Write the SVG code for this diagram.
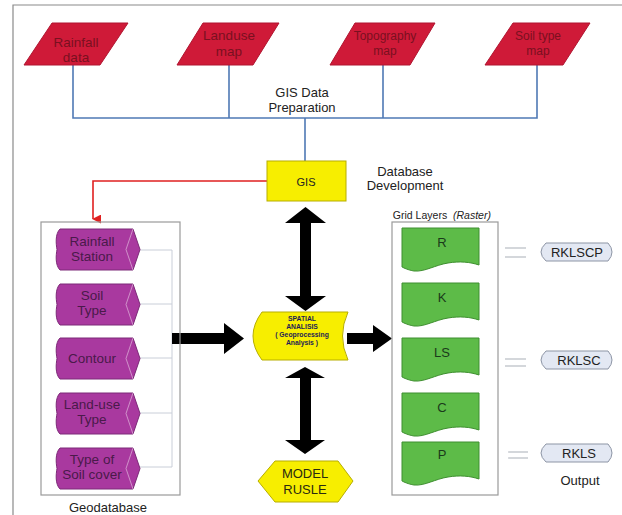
<svg xmlns="http://www.w3.org/2000/svg" width="622" height="515" viewBox="0 0 622 515">
<style>
text{font-family:"Liberation Sans",Arial,sans-serif;text-anchor:middle}
.frame{fill:none;stroke:#8a8a8a;stroke-width:1.2}
.src{fill:#cf1a38;stroke:#b01530;stroke-width:1}
.srct{font-size:13.5px;fill:#7a1020}
.blue{fill:none;stroke:#4f79b5;stroke-width:1.6}
.lbl{font-size:13px;fill:#222}
.yel{fill:#f7ee00;stroke:#b7ae00;stroke-width:1}
.pur{fill:#a9399f;stroke:#7d2a78;stroke-width:1}
.purin{fill:none;stroke:#d9a8d4;stroke-width:0.8}
.purt{font-size:13.5px;fill:#4a1a4a}
.thin{fill:none;stroke:#c9ced8;stroke-width:1}
.box{fill:none;stroke:#9a9a9a;stroke-width:1.2}
.grn{fill:#5dbb48;stroke:#3f8f30;stroke-width:1}
.grnt{font-size:13px;fill:#1a3a1a}
.out{fill:#e3e8f3;stroke:#8d95a5;stroke-width:1}
.outt{font-size:13px;fill:#222}
.eq{stroke:#b8bcc4;stroke-width:1.2}
.blk{fill:#000}
.sp{font-size:6.8px;font-weight:bold;fill:#1d1d55}
</style>
<defs>
<marker id="redhead" viewBox="0 0 10 10" refX="5" refY="9" markerWidth="9" markerHeight="9" markerUnits="userSpaceOnUse" orient="auto-start-reverse">
<path d="M0,0 L10,0 L5,10 Z" fill="#e02020"/>
</marker>
<path id="purshape" d="M60,0 L133,0 L140,20.5 L133,41 L60,41 C55,36 56,26 57,20.5 C56,15 55,5 60,0 Z"/>
<path id="purinner" d="M133,0 L126,20.5 L133,41"/>
<path id="grnshape" d="M402,0 H479 V37 C470,34 460,33 448,35 C435,37 425,44 414,43 C408,42 404,40 402,39 Z"/>
<path id="outshape" d="M546,0 L608,0 Q616,9 608,18 L546,18 Q536,9 546,0 Z"/>
</defs>

<path class="frame" d="M13,515 V5 H622"/>

<g id="connectors">
<path class="blue" d="M73,65 V118 H537 V65 M229,65 V118 M383,65 V118 M305,118 V161"/>
<path d="M267,181 H93 V219" fill="none" stroke="#e02020" stroke-width="1.6" marker-end="url(#redhead)"/>
<path class="thin" d="M140,250 H172 V467 H140 M140,304 H172 M140,358 H172 M140,413 H172"/>
<polygon class="blk" points="172,333 224,333 224,323 244,338.5 224,354 224,344 172,344"/>
<polygon class="blk" points="347,333 373,333 373,325 392,338.5 373,352 373,344 347,344"/>
<polygon class="blk" points="305.5,207 326,223 311,223 311,296 326,296 305.5,311 285,296 300,296 300,223 285,223"/>
<polygon class="blk" points="305,367 325,378 311,378 311,440 325,440 305,454 285,440 300,440 300,378 285,378"/>
<g class="eq">
<line x1="505" y1="248" x2="526" y2="248"/><line x1="505" y1="257" x2="526" y2="257"/>
<line x1="505" y1="359" x2="526" y2="359"/><line x1="505" y1="366" x2="526" y2="366"/>
<line x1="508" y1="452" x2="528" y2="452"/><line x1="508" y1="458" x2="528" y2="458"/>
</g>
</g>

<g id="rainfall-data">
<polygon class="src" points="52,23 128,23 100,65 24,65"/>
<text class="srct" x="76" y="47">Rainfall</text>
<text class="srct" x="76" y="62">data</text>
</g>
<g id="landuse-map">
<polygon class="src" points="203,23 279,23 253,65 177,65"/>
<text class="srct" x="229" y="40">Landuse</text>
<text class="srct" x="229" y="56">map</text>
</g>
<g id="topography-map">
<polygon class="src" points="355,23 435,23 410,65 330,65"/>
<text class="srct" x="385" y="40" style="font-size:12px">Topography</text>
<text class="srct" x="385" y="55" style="font-size:12px">map</text>
</g>
<g id="soil-type-map">
<polygon class="src" points="513,23 590,23 563,65 485,65"/>
<text class="srct" x="538" y="40" style="font-size:12px">Soil type</text>
<text class="srct" x="538" y="55" style="font-size:12px">map</text>
</g>

<g id="gis-data-preparation">
<text class="lbl" x="302" y="97">GIS Data</text>
<text class="lbl" x="302" y="112">Preparation</text>
</g>

<g id="gis">
<rect class="yel" x="267" y="161" width="79" height="40"/>
<text x="306" y="186" style="font-size:11px;fill:#222">GIS</text>
</g>

<g id="database-development">
<text class="lbl" x="405" y="176">Database</text>
<text class="lbl" x="405" y="190">Development</text>
</g>

<g id="geodatabase">
<rect class="box" x="41" y="222" width="139" height="273"/>
<text class="lbl" x="108" y="512">Geodatabase</text>
</g>

<g id="rainfall-station" transform="translate(0,229)">
<use href="#purshape" class="pur"/><use href="#purinner" class="purin"/>
<text class="purt" x="92" y="17">Rainfall</text>
<text class="purt" x="92" y="32">Station</text>
</g>
<g id="soil-type" transform="translate(0,284)">
<use href="#purshape" class="pur"/><use href="#purinner" class="purin"/>
<text class="purt" x="92" y="16">Soil</text>
<text class="purt" x="92" y="31">Type</text>
</g>
<g id="contour" transform="translate(0,338)">
<use href="#purshape" class="pur"/><use href="#purinner" class="purin"/>
<text class="purt" x="92" y="25">Contour</text>
</g>
<g id="land-use-type" transform="translate(0,393)">
<use href="#purshape" class="pur"/><use href="#purinner" class="purin"/>
<text class="purt" x="92" y="16">Land-use</text>
<text class="purt" x="92" y="31">Type</text>
</g>
<g id="type-of-soil-cover" transform="translate(0,448)">
<use href="#purshape" class="pur"/><use href="#purinner" class="purin"/>
<text class="purt" x="92" y="16">Type of</text>
<text class="purt" x="92" y="31">Soil cover</text>
</g>

<g id="spatial-analisis">
<path class="yel" d="M262,312 L348,312 Q337,336 348,360 L262,360 Q244,336 262,312 Z"/>
<text class="sp" x="302" y="321">SPATIAL</text>
<text class="sp" x="302" y="329">ANALISIS</text>
<text class="sp" x="302" y="337">( Geoprocessing</text>
<text class="sp" x="302" y="345">Analysis    )</text>
</g>

<g id="model-rusle">
<polygon class="yel" points="258,481 275,461 338,461 353,481 338,502 275,502"/>
<text x="305" y="478" style="font-size:13px;fill:#2a2a10">MODEL</text>
<text x="305" y="494" style="font-size:13px;fill:#2a2a10">RUSLE</text>
</g>

<g id="grid-layers">
<rect class="box" x="392" y="222" width="106" height="273"/>
<text x="420" y="219" style="font-size:10.5px;fill:#222">Grid Layers</text>
<text x="472" y="219" style="font-size:10.5px;fill:#222;font-style:italic">(Raster)</text>
</g>

<g id="layer-r" transform="translate(0,228)">
<use href="#grnshape" class="grn"/>
<text class="grnt" x="442" y="19">R</text>
</g>
<g id="layer-k" transform="translate(0,283)">
<use href="#grnshape" class="grn"/>
<text class="grnt" x="442" y="19">K</text>
</g>
<g id="layer-ls" transform="translate(0,338)">
<use href="#grnshape" class="grn"/>
<text class="grnt" x="442" y="19">LS</text>
</g>
<g id="layer-c" transform="translate(0,393)">
<use href="#grnshape" class="grn"/>
<text class="grnt" x="442" y="19">C</text>
</g>
<g id="layer-p" transform="translate(0,442)">
<use href="#grnshape" class="grn"/>
<text class="grnt" x="442" y="17">P</text>
</g>

<g id="rklscp" transform="translate(0,243)">
<use href="#outshape" class="out"/>
<text class="outt" x="577" y="14">RKLSCP</text>
</g>
<g id="rklsc" transform="translate(0,351)">
<use href="#outshape" class="out"/>
<text class="outt" x="579" y="14">RKLSC</text>
</g>
<g id="rkls" transform="translate(0,444)">
<use href="#outshape" class="out"/>
<text class="outt" x="579" y="14">RKLS</text>
</g>
<g id="output">
<text class="lbl" x="580" y="485">Output</text>
</g>
</svg>
